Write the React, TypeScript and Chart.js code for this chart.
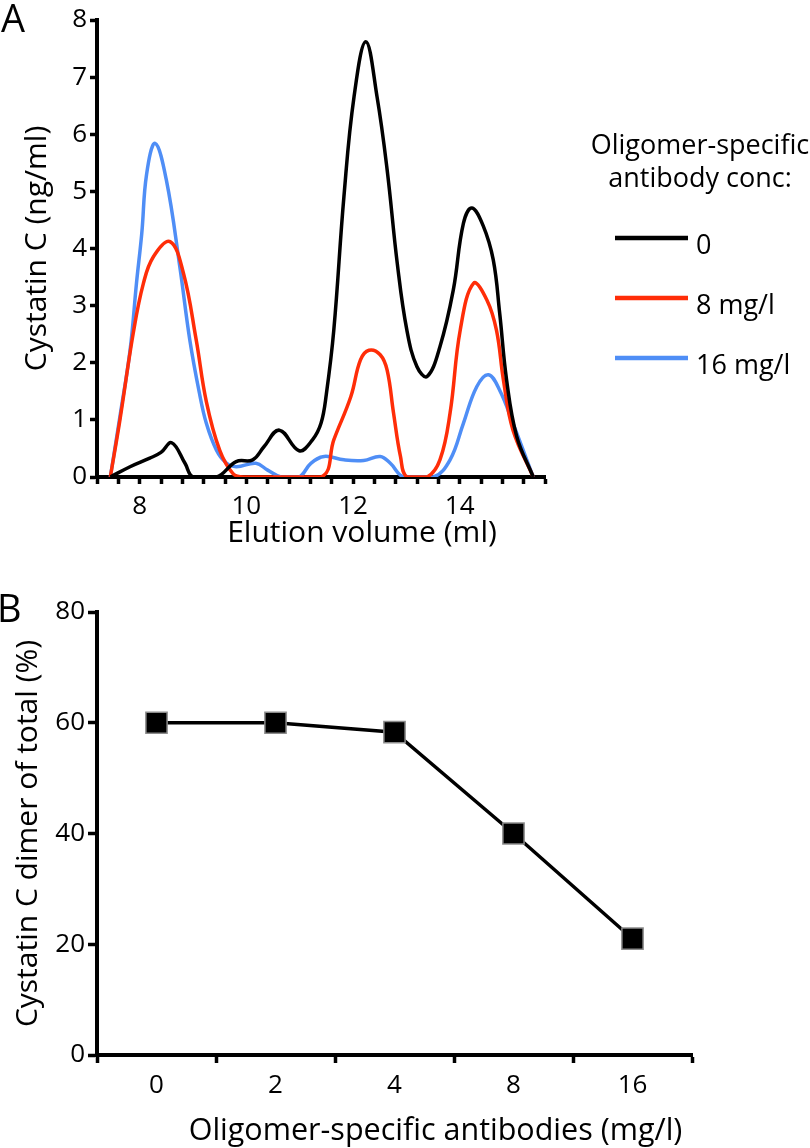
import React, { useEffect, useRef } from "react";
import { Chart, registerables } from "chart.js";

Chart.register(...registerables);

const FONT = '"Open Sans", "Noto Sans", sans-serif';

// ---------- Panel A: elution profiles ----------
const volumes0 = [7.45, 7.82, 8.19, 8.4, 8.6, 8.85, 9.0, 9.45, 9.81, 10.12, 10.33, 10.62, 10.99, 11.24, 11.4, 11.5, 11.64, 11.83, 12.02, 12.24, 12.45, 12.64, 12.83, 13.01, 13.2, 13.39, 13.63, 13.88, 14.07, 14.23, 14.44, 14.63, 14.75, 14.88, 15.07, 15.38];
const conc0 = [0, 0.18, 0.33, 0.43, 0.6, 0.24, 0, 0, 0.27, 0.3, 0.53, 0.82, 0.46, 0.65, 0.94, 1.45, 2.57, 4.91, 6.66, 7.62, 6.66, 5.38, 3.74, 2.57, 1.93, 1.76, 2.28, 3.27, 4.44, 4.71, 4.4, 3.8, 2.87, 1.7, 0.71, 0];

const volumes8 = [7.45, 7.63, 7.88, 8.07, 8.26, 8.57, 8.82, 9.06, 9.25, 9.5, 9.75, 9.95, 11.4, 11.64, 11.96, 12.14, 12.3, 12.51, 12.64, 12.76, 12.89, 13.01, 13.39, 13.63, 13.82, 14.01, 14.26, 14.51, 14.69, 14.82, 15.0, 15.38];
const conc8 = [0, 1.0, 2.52, 3.39, 3.86, 4.12, 3.57, 2.4, 1.32, 0.47, 0.06, 0, 0, 0.65, 1.41, 2.05, 2.22, 2.14, 1.87, 1.12, 0.36, 0, 0, 0.3, 1.12, 2.57, 3.39, 3.1, 2.57, 1.7, 0.82, 0];

const volumes16 = [7.45, 7.63, 7.82, 7.94, 8.04, 8.13, 8.29, 8.5, 8.75, 8.94, 9.12, 9.25, 9.44, 9.62, 9.81, 10.18, 10.4, 10.65, 10.99, 11.21, 11.46, 11.83, 12.2, 12.51, 12.7, 12.95, 13.51, 13.82, 14.07, 14.32, 14.54, 14.75, 15.0, 15.38];
const conc16 = [0, 1.06, 2.22, 3.39, 4.27, 5.3, 5.84, 5.2, 3.7, 2.4, 1.47, 0.94, 0.47, 0.25, 0.18, 0.24, 0.12, 0, 0, 0.24, 0.36, 0.3, 0.29, 0.36, 0.24, 0, 0, 0.3, 0.94, 1.58, 1.79, 1.52, 0.94, 0];

const seriesLabels = ["0", "8 mg/l", "16 mg/l"];
const seriesColors = ["#000000", "#ff2d08", "#4f8ef6"];
const xLabelValuesA = [8, 10, 12, 14];
const legendTitleA = ["Oligomer-specific", "antibody conc:"];

// ---------- Panel B: dimer fraction ----------
const antibodyConcs = ["0", "2", "4", "8", "16"];
const dimerPercent = [60, 60, 58.3, 40, 21];

// Draws panel letter and offset x-axis title
const annotatePlugin = {
  id: "annotate",
  afterDraw(chart: any, _args: any, opts: any) {
    const { ctx, chartArea } = chart;
    ctx.save();
    ctx.fillStyle = "#000";
    ctx.textBaseline = "alphabetic";
    if (opts.letter) {
      ctx.font = `38px ${FONT}`;
      ctx.textAlign = "left";
      ctx.fillText(opts.letter, opts.letterX, opts.letterY);
    }
    if (opts.xTitle) {
      ctx.font = `${opts.xTitleSize}px ${FONT}`;
      ctx.textAlign = "center";
      const cx = (chartArea.left + chartArea.right) / 2 + opts.xTitleShift;
      ctx.fillText(opts.xTitle, cx, opts.xTitleY);
    }
    ctx.restore();
  },
};

const legendPlugin = {
  id: "lineLegend",
  afterDraw(chart: any, _args: any, opts: any) {
    if (!opts || !opts.display) return;
    const { ctx } = chart;
    ctx.save();
    ctx.fillStyle = "#000";
    ctx.font = `27px ${FONT}`;
    ctx.textBaseline = "alphabetic";
    ctx.textAlign = "center";
    opts.title.forEach((t: string, i: number) => {
      ctx.fillText(t, opts.titleX, opts.titleY + i * 33);
    });
    ctx.textAlign = "left";
    chart.data.datasets.forEach((ds: any, i: number) => {
      const y = opts.itemY + i * opts.itemGap;
      ctx.strokeStyle = ds.borderColor;
      ctx.lineWidth = 4.5;
      ctx.beginPath();
      ctx.moveTo(opts.lineX0, y);
      ctx.lineTo(opts.lineX1, y);
      ctx.stroke();
      ctx.fillStyle = "#000";
      ctx.fillText(ds.label, opts.lineX1 + 8, y + 16);
    });
    ctx.restore();
  },
};

const makeGrid = (len: number) => ({
  drawOnChartArea: false,
  drawTicks: true,
  tickLength: len,
  tickWidth: 3.5,
  tickColor: "#000",
});
const border = { display: true, color: "#000", width: 4 };

function ChartA() {
  const ref = useRef<HTMLCanvasElement>(null);
  useEffect(() => {
    if (!ref.current) return;
    const makeSet = (vols: number[], vals: number[], i: number) => ({
      label: seriesLabels[i],
      data: vols.map((x, k) => ({ x, y: vals[k] })),
      borderColor: seriesColors[i],
      backgroundColor: seriesColors[i],
      borderWidth: 3.5,
      pointRadius: 0,
      tension: 0.4,
      fill: false,
    });
    const chart = new Chart(ref.current, {
      type: "line",
      data: {
        datasets: [
          makeSet(volumes0, conc0, 0),
          makeSet(volumes8, conc8, 1),
          makeSet(volumes16, conc16, 2),
        ],
      },
      options: {
        responsive: false,
        animation: false,
        layout: { padding: { top: 20, right: 265, left: 0, bottom: 0 } },
        plugins: {
          legend: { display: false },
          tooltip: { enabled: false },
          annotate: { letter: "A", letterX: 1, letterY: 32, xTitle: "Elution volume (ml)", xTitleSize: 30, xTitleShift: 41, xTitleY: 542 },
          lineLegend: {
            display: true,
            title: legendTitleA,
            titleX: 700,
            titleY: 154,
            itemY: 238,
            itemGap: 60,
            lineX0: 615,
            lineX1: 688,
          },
        } as any,
        scales: {
          x: {
            type: "linear",
            min: 7.2,
            max: 15.6,
            grid: makeGrid(7),
            border,
            ticks: {
              stepSize: 0.4,
              autoSkip: false,
              maxRotation: 0,
              minRotation: 0,
              color: "#000",
              padding: 7,
              font: { family: FONT, size: 26 },
              callback: (v: any) => {
                const r = Math.round(Number(v) * 10) / 10;
                return xLabelValuesA.includes(r) ? String(r) : "";
              },
            },
            afterFit: (s: any) => {
              s.height = 83;
            },
          },
          y: {
            min: 0,
            max: 8,
            grid: makeGrid(7),
            border,
            ticks: {
              stepSize: 1,
              color: "#000",
              padding: 3,
              font: { family: FONT, size: 26 },
            },
            title: {
              display: true,
              text: "Cystatin C (ng/ml)",
              color: "#000",
              font: { family: FONT, size: 30 },
              padding: { top: 19, bottom: 0 },
            },
            afterFit: (s: any) => {
              s.width = 97;
            },
          },
        },
      },
      plugins: [annotatePlugin, legendPlugin],
    });
    return () => chart.destroy();
  }, []);
  return <canvas ref={ref} width={810} height={560} style={{ position: "absolute", left: 0, top: 0 }} />;
}

function ChartB() {
  const ref = useRef<HTMLCanvasElement>(null);
  useEffect(() => {
    if (!ref.current) return;
    const chart = new Chart(ref.current, {
      type: "line",
      data: {
        labels: antibodyConcs,
        datasets: [
          {
            label: "Cystatin C dimer",
            data: dimerPercent,
            borderColor: "#000",
            backgroundColor: "#000",
            borderWidth: 3.5,
            tension: 0,
            pointStyle: "rect",
            pointRadius: 15,
            pointBackgroundColor: "#000",
            pointBorderColor: "#8c8c8c",
            pointBorderWidth: 1.5,
          },
        ],
      },
      options: {
        responsive: false,
        animation: false,
        layout: { padding: { top: 52, right: 118, left: 0, bottom: 0 } },
        plugins: {
          legend: { display: false },
          tooltip: { enabled: false },
          annotate: { letter: "B", letterX: -3, letterY: 62, xTitle: "Oligomer-specific antibodies (mg/l)", xTitleSize: 30.5, xTitleShift: 41, xTitleY: 580 },
        } as any,
        scales: {
          x: {
            type: "category",
            offset: true,
            grid: { ...makeGrid(8), offset: true },
            border,
            ticks: {
              color: "#000",
              padding: 7,
              maxRotation: 0,
              font: { family: FONT, size: 26 },
            },
            afterFit: (s: any) => {
              s.height = 93;
            },
          },
          y: {
            min: 0,
            max: 80,
            grid: makeGrid(9),
            border,
            ticks: {
              stepSize: 20,
              color: "#000",
              padding: 3,
              font: { family: FONT, size: 26 },
            },
            title: {
              display: true,
              text: "Cystatin C dimer of total (%)",
              color: "#000",
              font: { family: FONT, size: 30 },
              padding: { top: 10, bottom: 0 },
            },
            afterFit: (s: any) => {
              s.width = 97;
            },
          },
        },
      },
      plugins: [annotatePlugin],
    });
    return () => chart.destroy();
  }, []);
  return <canvas ref={ref} width={810} height={588} style={{ position: "absolute", left: 0, top: 560 }} />;
}

export default function App() {
  return (
    <div style={{ position: "absolute", left: 0, top: 0, width: 810, height: 1148, background: "#fff", overflow: "hidden" }}>
      <ChartA />
      <ChartB />
    </div>
  );
}
